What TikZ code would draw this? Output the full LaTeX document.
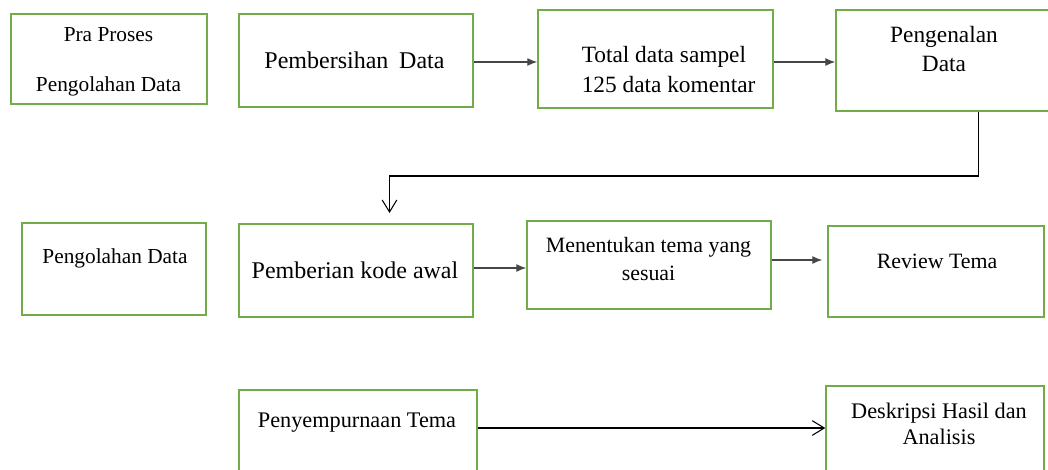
\documentclass[tikz,border=0pt]{standalone}
\usepackage{fontspec}
\setmainfont{Liberation Serif}
\newcommand{\huruf}[2]{\fontsize{#1}{#2}\selectfont}
\usetikzlibrary{calc,positioning,arrows.meta}
\definecolor{hijau}{RGB}{112,173,71}
\definecolor{abu}{RGB}{70,70,70}

\begin{document}
\begin{tikzpicture}[x=0.75pt,y=-0.75pt,
	kotak/.style 2 args={draw=hijau,line width=1.1pt,inner sep=0pt,minimum width=#1,minimum height=#2},
	teks/.style={inner sep=0pt,align=center},
	panah/.style={draw=abu,line width=0.9pt,-{Latex[length=7.5pt,width=6pt]}},
	panahbuka/.style={draw=black,line width=0.8pt,-{Straight Barb[length=9pt,width=11pt]}}]

\useasboundingbox (0,0) rectangle (1048,469);

% kotak baris pertama
\node[kotak={147pt}{67.5pt}] (pra) at (109,59) {};
\node[kotak={175.5pt}{69.75pt}] (bersih) at (356,60.5) {};
\node[kotak={176.25pt}{73.5pt}] (total) at (655.5,59) {};
\node[kotak={162pt}{75.75pt}] (kenal) at (944,60.5) {};

% kotak baris kedua
\node[kotak={138pt}{69pt}] (olah) at (114,269) {};
\node[kotak={175.5pt}{69.75pt}] (kode) at (356,270.5) {};
\node[kotak={183pt}{66pt}] (tentu) at (649,265) {};
\node[kotak={162pt}{68.25pt}] (review) at (936,271.5) {};

% kotak baris ketiga
\node[kotak={178.5pt}{67.5pt}] (sempurna) at (358,435) {};
\node[kotak={163.5pt}{67.5pt}] (deskripsi) at (935,431) {};

% tulisan
\node[teks,font=\huruf{16}{37.5}] (pra-t) at (108.5,62) {Pra Proses\\Pengolahan Data};
\node[teks,font=\huruf{18}{22}] (bersih-t) at (354.5,60) {Pembersihan\hspace{0.2em} Data};
\node[teks,align=left,anchor=west,font=\huruf{17.5}{22.5}] (total-t) at (581.5,70) {Total data sampel\\125 data komentar};
\node[teks,font=\huruf{17.5}{21.2}] (kenal-t) at (944,49) {Pengenalan\\Data};
\node[teks,font=\huruf{16}{20}] (olah-t) at (115,258) {Pengolahan Data};
\node[teks,font=\huruf{18}{22}] (kode-t) at (355,270) {Pemberian kode awal};
\node[teks,font=\huruf{16.4}{21.4}] (tentu-t) at (648.5,259) {Menentukan tema yang\\sesuai};
\node[teks,font=\huruf{16.4}{20}] (review-t) at (937,261) {Review Tema};
\node[teks,font=\huruf{16.7}{20}] (sempurna-t) at (357,423) {Penyempurnaan Tema};
\node[teks,font=\huruf{16.7}{19}] (deskripsi-t) at (939,424) {Deskripsi Hasil dan\\Analisis};

% panah
\draw[panah] ($(bersih.east)+(0,1.5)$) -- ($(bersih.east -| total.west)+(0,1.5)$);
\draw[panah] ($(total.east)+(0,3)$) -- ($(total.east -| kenal.west)+(0,3)$);
\draw[panah] ($(kode.east)+(0,-2.5)$) -- ($(kode.east -| tentu.west)+(0,-2.5)$);
\draw[panah,shorten >=3.75pt] ($(tentu.east)+(0,-5)$) -- ($(tentu.east -| review.west)+(0,-5)$);
\draw[panahbuka] ($(sempurna.east)+(0,-7)$) -- ($(sempurna.east -| deskripsi.west)+(0,-7)$);

% garis dari pengenalan data ke pemberian kode
\coordinate (ujung) at (389.5,213);
\draw[panahbuka] ($(kenal.south)+(34.6,0)$) |- ($(ujung)+(0,-37)$) -- (ujung);

\end{tikzpicture}
\end{document}
